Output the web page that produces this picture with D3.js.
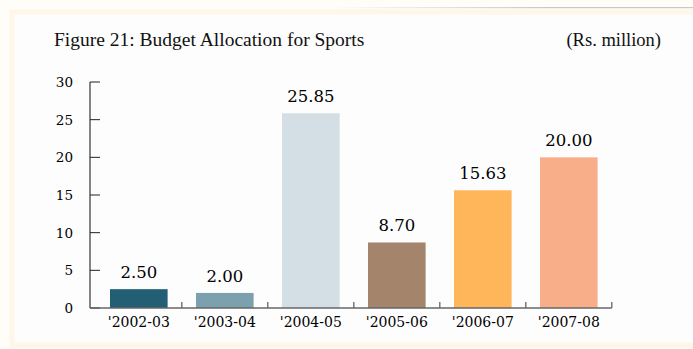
<!DOCTYPE html>
<html>
<head>
<meta charset="utf-8">
<script src="https://cdn.jsdelivr.net/npm/d3@7"></script>
<style>
  html, body { margin: 0; padding: 0; background: #ffffff; }
  svg { display: block; }
</style>
</head>
<body>
<svg id="chart" width="693" height="349"></svg>
<script>
// Budget allocation for sports, Rs. million
const years = ["'2002-03", "'2003-04", "'2004-05", "'2005-06", "'2006-07", "'2007-08"];
const allocations = [2.50, 2.00, 25.85, 8.70, 15.63, 20.00];
const yTicks = [0, 5, 10, 15, 20, 25, 30];
const barColors = ["#225E74", "#7BA1AE", "#D3DEE5", "#A4846A", "#FFB55A", "#F9AE8A"];

const svg = d3.select("#chart");
const serif = "'DejaVu Serif', serif";

// page frame
const defs = svg.append("defs");
const grad = defs.append("linearGradient").attr("id", "topline");
grad.append("stop").attr("offset", "0%").attr("stop-color", "#c8c8c8").attr("stop-opacity", 0);
grad.append("stop").attr("offset", "60%").attr("stop-color", "#c8c8c8").attr("stop-opacity", 1);
svg.append("rect").attr("x", 0).attr("y", 0).attr("width", 693).attr("height", 349).attr("fill", "#fffdf8");
svg.append("rect").attr("x", 12).attr("y", 12).attr("width", 690).attr("height", 333)
  .attr("fill", "#fdfdfd").attr("stroke", "#fff6e8").attr("stroke-width", 5);
svg.append("rect").attr("x", 330).attr("y", 7).attr("width", 363).attr("height", 1.2).attr("fill", "url(#topline)");

// title and unit
svg.append("text").attr("x", 54).attr("y", 46)
  .attr("font-family", "'Liberation Serif', serif").attr("font-size", 19.5).attr("fill", "#111")
  .text("Figure 21: Budget Allocation for Sports");
svg.append("text").attr("x", 661).attr("y", 46).attr("text-anchor", "end")
  .attr("font-family", "'Liberation Serif', serif").attr("font-size", 18.5).attr("fill", "#111")
  .text("(Rs. million)");

const x = d3.scaleBand().domain(years).range([95.8, 611.8]).paddingInner(0.33).paddingOuter(0.165);
const y = d3.scaleLinear().domain([0, 30]).range([308, 82]);

const axisColor = "#666";

// y axis: line with inward ticks
const gy = svg.append("g").attr("transform", "translate(90,0)");
gy.append("line").attr("x1", 0).attr("x2", 0).attr("y1", y(30)).attr("y2", y(0))
  .attr("stroke", axisColor).attr("stroke-width", 1.6);
gy.selectAll(".tk").data(yTicks).join("line")
  .attr("x1", 0).attr("x2", 10).attr("y1", d => y(d)).attr("y2", d => y(d))
  .attr("stroke", "#222").attr("stroke-width", 1);
gy.selectAll(".lb").data(yTicks).join("text")
  .attr("x", -17).attr("y", d => y(d)).attr("dy", "0.36em").attr("text-anchor", "end")
  .attr("font-family", serif).attr("font-size", 13.5).attr("fill", "#000")
  .text(d => d);

// bars
svg.selectAll(".bar").data(allocations).join("rect")
  .attr("x", (d, i) => x(years[i])).attr("width", x.bandwidth())
  .attr("y", d => y(d)).attr("height", d => y(0) - y(d))
  .attr("fill", (d, i) => barColors[i]);

// value labels
svg.selectAll(".val").data(allocations).join("text")
  .attr("x", (d, i) => x(years[i]) + x.bandwidth() / 2).attr("y", d => y(d) - 11)
  .attr("text-anchor", "middle").attr("font-family", serif).attr("font-size", 16.5).attr("fill", "#000")
  .text(d => d.toFixed(2));

// x axis: baseline with upward ticks at band boundaries
const step = x.step();
const gx = svg.append("g");
gx.append("line").attr("x1", 90).attr("x2", x.range()[1]).attr("y1", y(0)).attr("y2", y(0))
  .attr("stroke", axisColor).attr("stroke-width", 1.6);
gx.selectAll(".xt").data(years).join("line")
  .attr("x1", (d, i) => x.range()[0] + step * (i + 1)).attr("x2", (d, i) => x.range()[0] + step * (i + 1))
  .attr("y1", y(0) - 6).attr("y2", y(0))
  .attr("stroke", axisColor).attr("stroke-width", 1.3);
gx.selectAll(".xl").data(years).join("text")
  .attr("x", d => x(d) + x.bandwidth() / 2).attr("y", 327)
  .attr("text-anchor", "middle").attr("font-family", serif).attr("font-size", 14).attr("fill", "#000")
  .text(d => d);
</script>
</body>
</html>
